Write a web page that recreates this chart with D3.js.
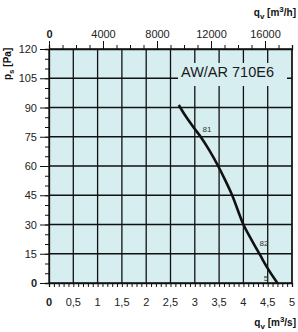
<!DOCTYPE html>
<html>
<head>
<meta charset="utf-8">
<script src="https://cdn.jsdelivr.net/npm/d3@7"></script>
<style>
  body { margin: 0; background: #fff; }
  svg { display: block; font-family: "Liberation Sans", Arial, sans-serif; }
</style>
</head>
<body>
<div id="visual"></div>
<script>
// fan curve: flow q_v [m3/s] vs static pressure p_s [Pa]
const flow = [2.67, 2.8, 3.0, 3.12, 3.3, 3.48, 3.62, 3.76, 4.0, 4.17, 4.34, 4.5, 4.7];
const pressure = [91.3, 86, 79, 75, 68, 60, 53, 45.5, 30, 22, 14.5, 7.5, 0];

const xTicks = [0, 0.5, 1, 1.5, 2, 2.5, 3, 3.5, 4, 4.5, 5];
const xLabels = ["0", "0,5", "1", "1,5", "2", "2,5", "3", "3,5", "4", "4,5", "5"];
const yTicks = [0, 15, 30, 45, 60, 75, 90, 105, 120];
const topTicks = [0, 4000, 8000, 12000, 16000];

// small marks on the curve
const marks = [
  { q: 3.16, p: 77.5, label: "81" },
  { q: 4.33, p: 19, label: "82" },
  { q: 4.42, p: 1.2, label: "5" }
];

const margin = { top: 49, right: 6, bottom: 49, left: 49 };
const W = 298, H = 332;
const width = W - margin.left - margin.right;
const height = H - margin.top - margin.bottom;

const svg = d3.select("#visual")
  .append("svg")
  .attr("width", W)
  .attr("height", H);

const g = svg.append("g")
  .attr("transform", "translate(" + margin.left + "," + margin.top + ")");

const x = d3.scaleLinear().domain([0, 5]).range([0, width]);
const y = d3.scaleLinear().domain([0, 120]).range([height, 0]);
const xTop = d3.scaleLinear().domain([0, 18000]).range([0, width]);

// plot background
g.append("rect")
  .attr("width", width)
  .attr("height", height)
  .attr("fill", "#d6eef0");

// grid
g.selectAll(".vgrid")
  .data(xTicks)
  .enter().append("line")
  .attr("x1", d => x(d)).attr("x2", d => x(d))
  .attr("y1", 0).attr("y2", height)
  .attr("stroke", "#111").attr("stroke-width", 1.3);

g.selectAll(".hgrid")
  .data(yTicks)
  .enter().append("line")
  .attr("x1", 0).attr("x2", width)
  .attr("y1", d => y(d)).attr("y2", d => y(d))
  .attr("stroke", "#111").attr("stroke-width", 1.3);

// title box hides the grid behind the text
g.append("rect")
  .attr("x", 129).attr("y", 14)
  .attr("width", 109).attr("height", 23)
  .attr("fill", "#d6eef0");

g.append("text")
  .attr("x", 132).attr("y", 28)
  .attr("font-size", "14.5px")
  .attr("fill", "#1a1a1a")
  .text("AW/AR 710E6");

// bottom axis: minor ticks every 0.1
g.append("g")
  .attr("transform", "translate(0," + height + ")")
  .call(d3.axisBottom(x).ticks(50).tickSize(4).tickFormat(""))
  .call(a => a.select(".domain").attr("stroke", "#111").attr("stroke-width", 1.3))
  .call(a => a.selectAll(".tick line").attr("stroke", "#111"));

g.selectAll(".xlab")
  .data(xTicks)
  .enter().append("text")
  .attr("x", d => x(d))
  .attr("y", height + 23)
  .attr("text-anchor", "middle")
  .attr("font-size", "11px")
  .attr("font-weight", d => d === 0 ? "bold" : "normal")
  .attr("fill", "#222")
  .text((d, i) => xLabels[i]);

// left axis: minor every 5, major every 15
g.append("g")
  .call(d3.axisLeft(y).tickValues(d3.range(0, 121, 5)).tickSize(4).tickFormat(""))
  .call(a => a.select(".domain").attr("stroke", "#111").attr("stroke-width", 1.3))
  .call(a => a.selectAll(".tick line").attr("stroke", "#111"));

g.append("g")
  .call(d3.axisLeft(y).tickValues(yTicks).tickSize(9).tickPadding(3))
  .call(a => a.select(".domain").remove())
  .call(a => a.selectAll(".tick line").attr("stroke", "#111"))
  .call(a => a.selectAll(".tick text")
    .attr("font-size", "11px")
    .attr("font-family", "Liberation Sans, Arial, sans-serif")
    .attr("font-weight", d => d === 0 ? "bold" : "normal")
    .attr("fill", "#222"));

// top axis in m3/h: minor every 1000, major every 4000
g.append("g")
  .call(d3.axisTop(xTop).tickValues(d3.range(0, 18001, 1000)).tickSize(4).tickFormat(""))
  .call(a => a.select(".domain").attr("stroke", "#111").attr("stroke-width", 1.3))
  .call(a => a.selectAll(".tick line").attr("stroke", "#111"));

g.append("g")
  .call(d3.axisTop(xTop).tickValues(topTicks).tickSize(8).tickPadding(3).tickFormat(d3.format("d")))
  .call(a => a.select(".domain").remove())
  .call(a => a.selectAll(".tick line").attr("stroke", "#111"))
  .call(a => a.selectAll(".tick text")
    .attr("font-size", "11px")
    .attr("font-family", "Liberation Sans, Arial, sans-serif")
    .attr("font-weight", d => d === 0 ? "bold" : "normal")
    .attr("fill", "#222"));

// right border
g.append("line")
  .attr("x1", width).attr("x2", width)
  .attr("y1", 0).attr("y2", height)
  .attr("stroke", "#111").attr("stroke-width", 1.3);

// fan curve
const line = d3.line()
  .x(d => x(d[0]))
  .y(d => y(d[1]))
  .curve(d3.curveMonotoneX);

g.append("path")
  .datum(d3.zip(flow, pressure))
  .attr("d", line)
  .attr("fill", "none")
  .attr("stroke", "#111")
  .attr("stroke-width", 2.6);

g.selectAll(".mark")
  .data(marks)
  .enter().append("text")
  .attr("x", d => x(d.q))
  .attr("y", d => y(d.p))
  .attr("font-size", "8px")
  .attr("fill", "#333")
  .text(d => d.label);

// axis titles
const yTitle = svg.append("text")
  .attr("transform", "translate(11,80) rotate(-90)")
  .attr("font-size", "10px")
  .attr("font-weight", "bold")
  .attr("fill", "#111");
yTitle.append("tspan").text("p");
yTitle.append("tspan").attr("dy", 3).attr("font-size", "8px").text("s");
yTitle.append("tspan").attr("dy", -3).text(" [Pa]");

const topTitle = svg.append("text")
  .attr("x", 296).attr("y", 16)
  .attr("text-anchor", "end")
  .attr("font-size", "10px")
  .attr("font-weight", "bold")
  .attr("fill", "#111");
topTitle.append("tspan").text("q");
topTitle.append("tspan").attr("dy", 3).attr("font-size", "8px").text("v");
topTitle.append("tspan").attr("dy", -3).text(" [m");
topTitle.append("tspan").attr("dy", -4).attr("font-size", "8px").text("3");
topTitle.append("tspan").attr("dy", 4).text("/h]");

const botTitle = svg.append("text")
  .attr("x", 296).attr("y", 326)
  .attr("text-anchor", "end")
  .attr("font-size", "10px")
  .attr("font-weight", "bold")
  .attr("fill", "#111");
botTitle.append("tspan").text("q");
botTitle.append("tspan").attr("dy", 3).attr("font-size", "8px").text("v");
botTitle.append("tspan").attr("dy", -3).text(" [m");
botTitle.append("tspan").attr("dy", -4).attr("font-size", "8px").text("3");
botTitle.append("tspan").attr("dy", 4).text("/s]");
</script>
</body>
</html>
